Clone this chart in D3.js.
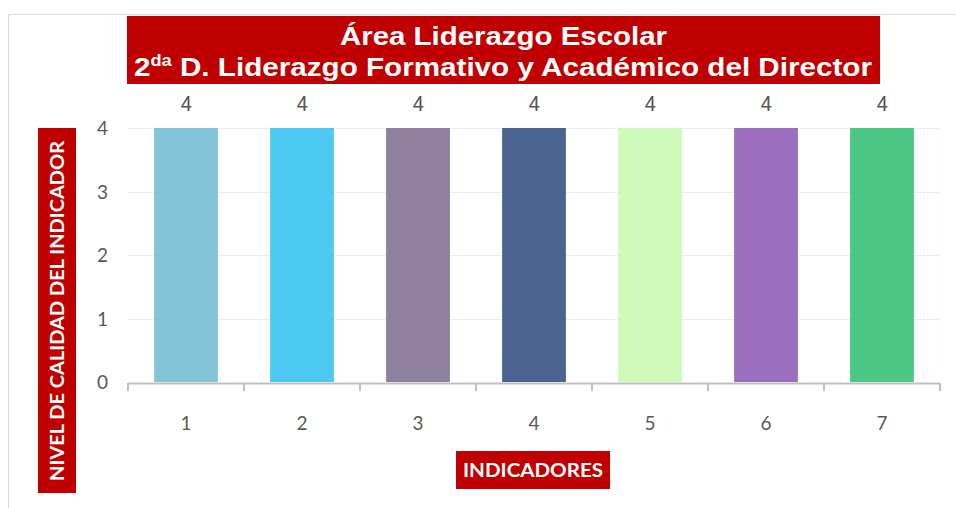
<!DOCTYPE html>
<html>
<head>
<meta charset="utf-8">
<script src="https://cdn.jsdelivr.net/npm/d3@7"></script>
<style>
  body { margin: 0; background: #fff; }
  svg { display: block; }
</style>
</head>
<body>
<div id="chart"></div>
<script>
// chart data
const indicators = ["1", "2", "3", "4", "5", "6", "7"];
const values = [4, 4, 4, 4, 4, 4, 4];
const barColors = ["#83c4d6", "#4dc8f3", "#9080a0", "#4b6590", "#cffaba", "#9b6fbd", "#4dc784"];
const yTicks = [0, 1, 2, 3, 4];

const W = 956, H = 508;
const margin = { top: 128, right: 16, bottom: 126, left: 128 };
const width = W - margin.left - margin.right;
const height = H - margin.top - margin.bottom;

const svg = d3.select("#chart").append("svg")
  .attr("width", W)
  .attr("height", H);

// outer chart frame (top and left edges visible)
svg.append("line").attr("x1", 8).attr("x2", W).attr("y1", 14.5).attr("y2", 14.5)
  .attr("stroke", "#d9d9d9");
svg.append("line").attr("x1", 8.5).attr("x2", 8.5).attr("y1", 14).attr("y2", H)
  .attr("stroke", "#d9d9d9");

const g = svg.append("g")
  .attr("transform", `translate(${margin.left},${margin.top})`);

const x = d3.scaleBand()
  .domain(indicators)
  .range([0, width])
  .paddingInner(0.45)
  .paddingOuter(0.225);

const y = d3.scaleLinear()
  .domain([0, 4])
  .range([height, 0]);

// gridlines
g.append("g")
  .selectAll("line")
  .data(yTicks.filter(d => d > 0))
  .join("line")
  .attr("x1", 0).attr("x2", width)
  .attr("y1", d => Math.round(y(d)) + 0.5)
  .attr("y2", d => Math.round(y(d)) + 0.5)
  .attr("stroke", "#ececec")
  .attr("stroke-width", 1.2);

// bars
g.selectAll(".bar")
  .data(values)
  .join("rect")
  .attr("class", "bar")
  .attr("x", (d, i) => x(indicators[i]))
  .attr("y", d => y(d))
  .attr("width", x.bandwidth())
  .attr("height", d => height - y(d))
  .attr("fill", (d, i) => barColors[i]);

// data labels
g.selectAll(".lbl")
  .data(values)
  .join("text")
  .attr("class", "lbl")
  .attr("x", (d, i) => x(indicators[i]) + x.bandwidth() / 2)
  .attr("y", d => y(d) - 17)
  .attr("text-anchor", "middle")
  .attr("font-family", "Roboto, sans-serif")
  .attr("font-weight", 400)
  .attr("font-size", 20)
  .attr("fill", "#595959")
  .text(d => d);

// x axis: baseline and category boundary ticks
const xAxis = g.append("g")
  .attr("transform", `translate(0,${height + 1})`);
xAxis.append("line")
  .attr("x1", 0).attr("x2", width).attr("y1", 0.5).attr("y2", 0.5)
  .attr("stroke", "#bfbfbf").attr("stroke-width", 2);
xAxis.selectAll(".tick")
  .data(d3.range(indicators.length + 1))
  .join("line")
  .attr("x1", i => i * x.step())
  .attr("x2", i => i * x.step())
  .attr("y1", 0).attr("y2", 8)
  .attr("stroke", "#bfbfbf").attr("stroke-width", 2);

g.selectAll(".xlab")
  .data(indicators)
  .join("text")
  .attr("class", "xlab")
  .attr("x", d => x(d) + x.bandwidth() / 2)
  .attr("y", height + 48)
  .attr("text-anchor", "middle")
  .attr("font-family", "Lato, 'Open Sans', sans-serif")
  .attr("font-size", 19)
  .attr("fill", "#595959")
  .text(d => d);

// y tick labels
g.selectAll(".ylab")
  .data(yTicks)
  .join("text")
  .attr("class", "ylab")
  .attr("x", -20)
  .attr("y", d => y(d) + 7)
  .attr("text-anchor", "end")
  .attr("font-family", "Lato, 'Open Sans', sans-serif")
  .attr("font-size", 19)
  .attr("fill", "#595959")
  .text(d => d);

// title box
svg.append("rect")
  .attr("x", 127).attr("y", 16).attr("width", 753).attr("height", 68)
  .attr("fill", "#c00000");
svg.append("text")
  .attr("x", 340).attr("y", 45)
  .attr("font-family", "'Liberation Sans', Arial, sans-serif")
  .attr("font-weight", "bold")
  .attr("font-size", 26)
  .attr("fill", "#fff")
  .attr("textLength", 327)
  .attr("lengthAdjust", "spacingAndGlyphs")
  .text("Área Liderazgo Escolar");
const t2 = svg.append("text")
  .attr("x", 134).attr("y", 76)
  .attr("font-family", "'Liberation Sans', Arial, sans-serif")
  .attr("font-weight", "bold")
  .attr("font-size", 26)
  .attr("fill", "#fff")
  .attr("textLength", 738)
  .attr("lengthAdjust", "spacingAndGlyphs");
t2.append("tspan").text("2");
t2.append("tspan").attr("font-size", 16).attr("dy", -10).text("da");
t2.append("tspan").attr("dy", 10).text(" D. Liderazgo Formativo y  Académico del Director");

// y axis title
svg.append("rect")
  .attr("x", 38).attr("y", 128).attr("width", 38).attr("height", 365)
  .attr("fill", "#c00000");
svg.append("text")
  .attr("transform", "translate(64,311) rotate(-90)")
  .attr("text-anchor", "middle")
  .attr("font-family", "Lato, 'Open Sans', sans-serif")
  .attr("font-weight", "bold")
  .attr("font-size", 19)
  .attr("fill", "#fff")
  .attr("textLength", 340)
  .attr("lengthAdjust", "spacingAndGlyphs")
  .text("NIVEL DE CALIDAD DEL INDICADOR");

// x axis title
svg.append("rect")
  .attr("x", 456).attr("y", 451).attr("width", 154).attr("height", 38)
  .attr("fill", "#c00000");
svg.append("text")
  .attr("x", 533).attr("y", 477)
  .attr("text-anchor", "middle")
  .attr("font-family", "Lato, 'Open Sans', sans-serif")
  .attr("font-weight", "bold")
  .attr("font-size", 19)
  .attr("fill", "#fff")
  .attr("textLength", 140)
  .attr("lengthAdjust", "spacingAndGlyphs")
  .text("INDICADORES");
</script>
</body>
</html>
